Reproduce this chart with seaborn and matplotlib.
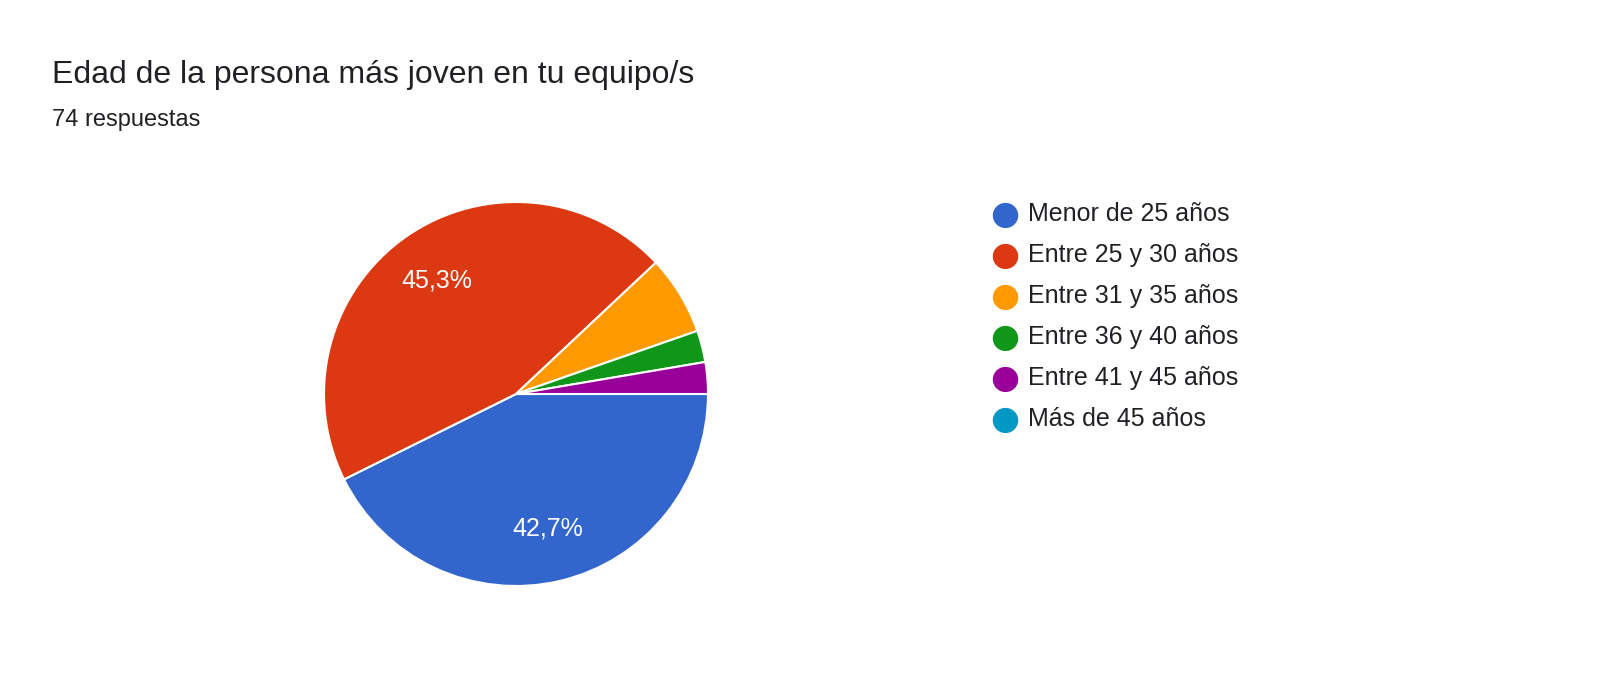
import matplotlib
matplotlib.use("Agg")
import matplotlib.pyplot as plt
import seaborn as sns

labels = ["Menor de 25 años", "Entre 25 y 30 años", "Entre 31 y 35 años",
          "Entre 36 y 40 años", "Entre 41 y 45 años", "Más de 45 años"]
counts = [32, 34, 5, 2, 2, 0]
colors = ["#3366cc", "#dc3912", "#ff9900", "#109618", "#990099", "#0099c6"]
title = "Edad de la persona más joven en tu equipo/s"
subtitle = "74 respuestas"

sns.set_theme(style="white")
plt.rcParams["font.family"] = ["Liberation Sans", "DejaVu Sans"]

W, H = 1600, 673
fig = plt.figure(figsize=(W / 100, H / 100), dpi=100)
fig.patch.set_facecolor("white")

cx, cy, r = 516, 394, 192
ax = fig.add_axes([(cx - r) / W, 1 - (cy + r) / H, 2 * r / W, 2 * r / H])

def fmt(p):
    return f"{p:.1f}%".replace(".", ",") if p >= 10 else ""

wedges, texts, autotexts = ax.pie(
    [c for c in counts if c > 0], colors=[c for c, n in zip(colors, counts) if n > 0],
    startangle=0, counterclock=False, autopct=fmt, pctdistance=0.72,
    wedgeprops=dict(edgecolor="white", linewidth=1.5), radius=1)
for t in autotexts:
    t.set_color("white")
    t.set_fontsize(18)
ax.set_xlim(-1, 1)
ax.set_ylim(-1, 1)
ax.set_aspect("equal")
ax.axis("off")

fig.text(52 / W, 1 - 75 / H, title, fontsize=23, color="#202124", va="center", ha="left")
fig.text(52 / W, 1 - 120 / H, subtitle, fontsize=17, color="#202124", va="center", ha="left")

for i, (lab, col) in enumerate(zip(labels, colors)):
    y = 1 - (214 + 41 * i) / H
    fig.text(1005 / W, y, "●", color=col, fontsize=24, ha="center", va="center",
             family=["DejaVu Sans"])
    fig.text(1028 / W, y, lab, fontsize=18, color="#202124", ha="left", va="center")

fig.savefig("out.png", dpi=100)
